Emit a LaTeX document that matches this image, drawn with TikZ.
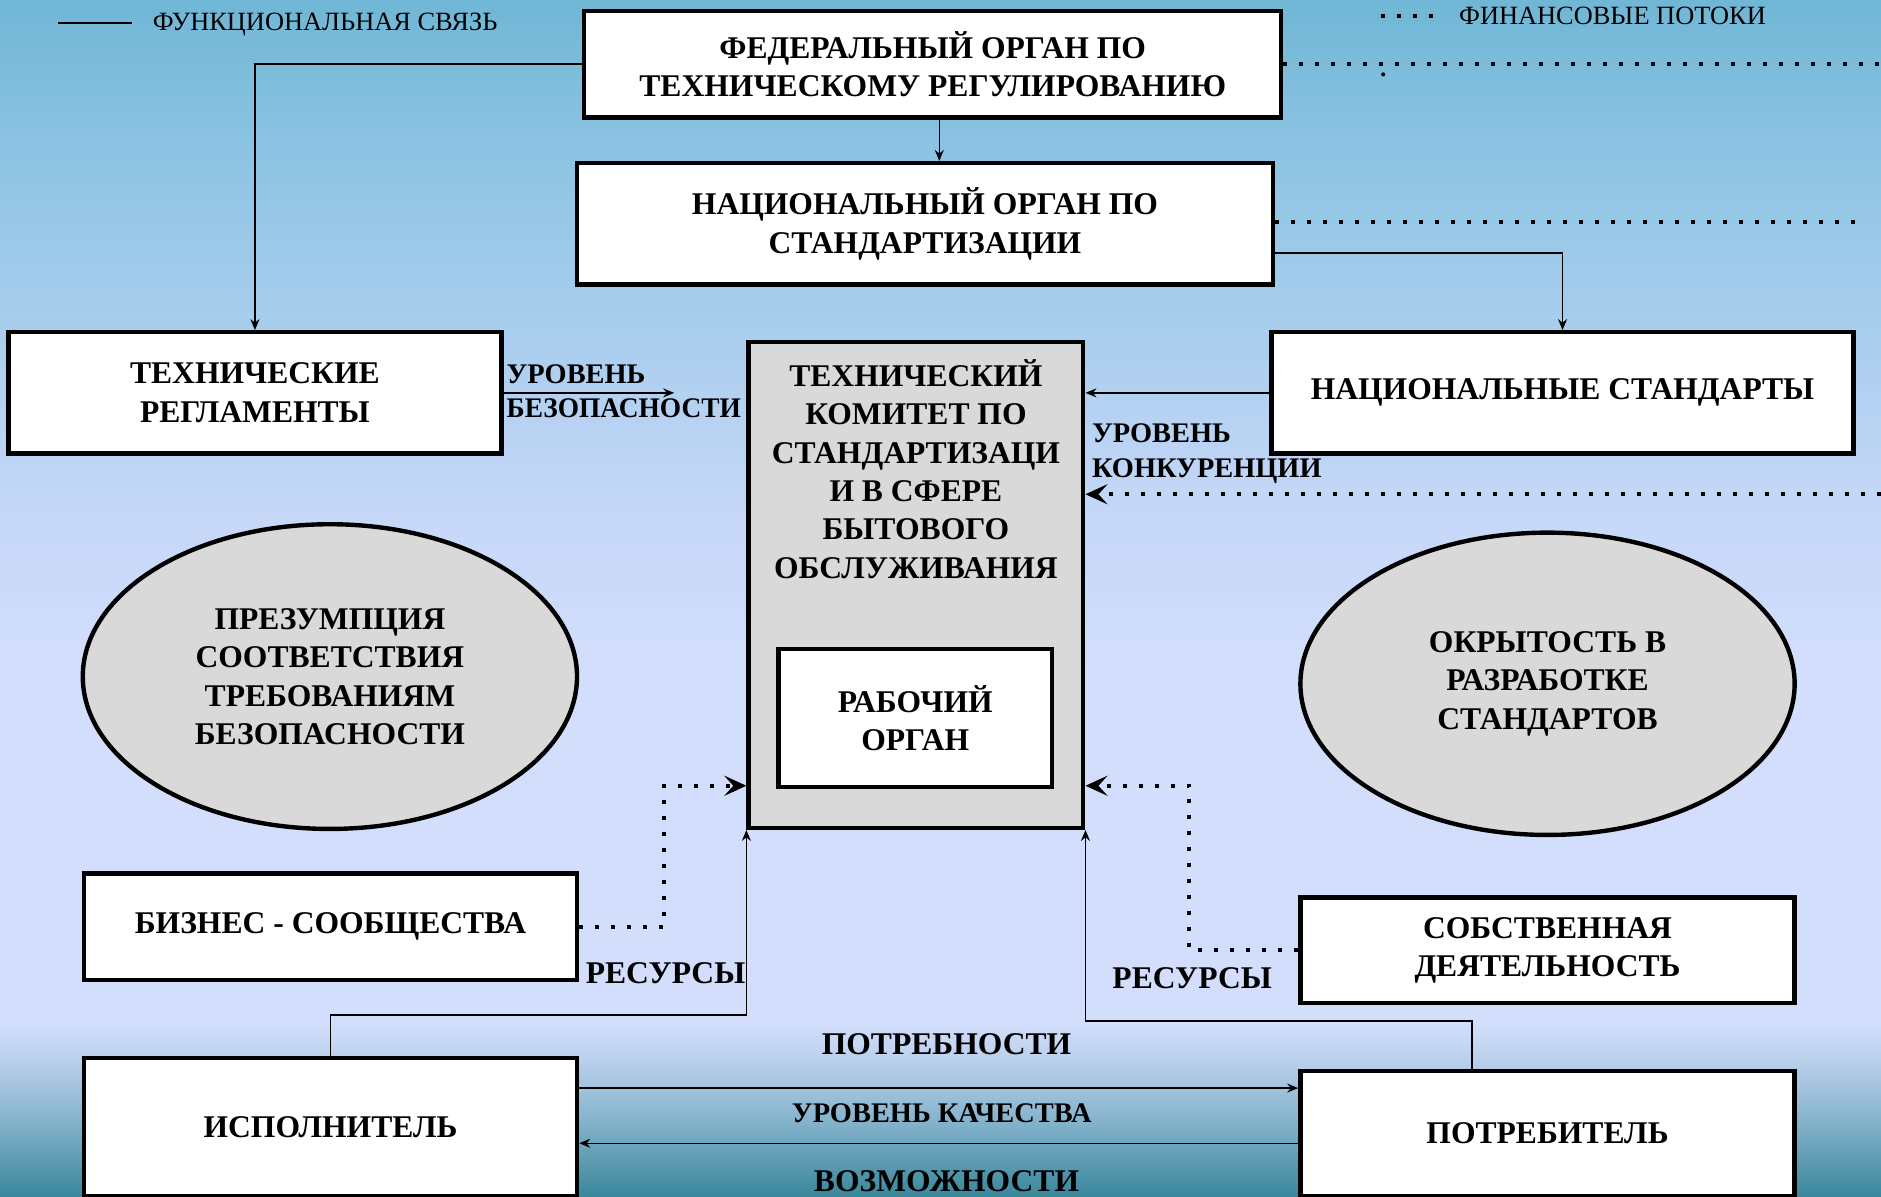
\documentclass[tikz,border=0pt]{standalone}
\usepackage{fontspec}
\usepackage{graphicx}
\setmainfont{Liberation Serif}
\usetikzlibrary{arrows.meta,shapes.geometric,calc}

\definecolor{bgA}{HTML}{70B6D5}
\definecolor{bgB}{HTML}{8CC3E2}
\definecolor{bgC}{HTML}{AACEEE}
\definecolor{bgD}{HTML}{C6D7F8}
\definecolor{bgE}{HTML}{D3DEFC}
\definecolor{bgF}{HTML}{B9CFEA}
\definecolor{bgG}{HTML}{7EAFC8}
\definecolor{bgH}{HTML}{3A879C}
\definecolor{panel}{HTML}{D9D9D9}

\newcommand{\mainfs}{\bfseries\fontsize{15.8}{19.2}\selectfont}
\newcommand{\smallfs}{\bfseries\fontsize{14.2}{17}\selectfont}
\newcommand{\legendfs}{\fontsize{13.2}{15}\selectfont}

\begin{document}
\begin{tikzpicture}[x=0.6pt,y=-0.6pt,
  sz/.style 2 args={minimum width=#1*0.6pt, minimum height=#2*0.6pt},
  box/.style={draw, line width=2.2pt, fill=white, font=\mainfs, align=center, inner sep=0pt},
  graybox/.style={box, fill=panel},
  oval/.style={ellipse, draw, line width=2.2pt, fill=panel, font=\mainfs, align=center, inner sep=0pt},
  link/.style={line width=0.75pt, -{Stealth[length=5.5pt,width=4.5pt,inset=1.8pt]}},
  plainlink/.style={line width=0.75pt},
  flow/.style={line width=2pt, dash pattern=on 2pt off 6pt},
  flowarr/.style={flow, -{Stealth[length=11pt,width=10pt,inset=4.5pt]}},
  lbl/.style={font=\mainfs, inner sep=0pt},
  slbl/.style={font=\smallfs, inner sep=0pt},
  legend/.style={font=\legendfs, inner sep=0pt}]

% background bands
\useasboundingbox (0,0) rectangle (1568,997);
\shade[top color=bgA, bottom color=bgB] (0,0) rectangle (1568,121);
\shade[top color=bgB, bottom color=bgC] (0,120) rectangle (1568,281);
\shade[top color=bgC, bottom color=bgD] (0,280) rectangle (1568,431);
\shade[top color=bgD, bottom color=bgE] (0,430) rectangle (1568,561);
\fill[bgE] (0,560) rectangle (1568,853);
\shade[top color=bgE, bottom color=bgF] (0,852) rectangle (1568,886);
\shade[top color=bgF, bottom color=bgG] (0,885) rectangle (1568,941);
\shade[top color=bgG, bottom color=bgH] (0,940) rectangle (1568,997);

% legend
\coordinate (lgA) at (48,19);
\coordinate (lgB) at (110,19);
\draw[plainlink] (lgA) -- (lgB);
\node[legend, anchor=base west] (lgtxtA) at (127,25.5) {ФУНКЦИОНАЛЬНАЯ СВЯЗЬ};
\coordinate (lgC) at (1151,13);
\coordinate (lgD) at (1199,13);
\draw[flow] (lgC) -- (lgD);
\node[legend, anchor=base west] (lgtxtB) at (1216,20.5) {ФИНАНСОВЫЕ ПОТОКИ};

% boxes
\node[box, sz={581}{89}] (fed) at (777.5,53.5) {ФЕДЕРАЛЬНЫЙ ОРГАН ПО\\ТЕХНИЧЕСКОМУ РЕГУЛИРОВАНИЮ};
\node[box, sz={580}{101}] (nat) at (771,186.5) {НАЦИОНАЛЬНЫЙ ОРГАН ПО\\СТАНДАРТИЗАЦИИ};
\node[box, sz={411}{101}] (tr) at (212.5,327.5) {ТЕХНИЧЕСКИЕ\\РЕГЛАМЕНТЫ};
\node[box, sz={485}{101}] (ns) at (1302.5,327.5) {НАЦИОНАЛЬНЫЕ СТАНДАРТЫ};
\node[graybox, sz={279}{405}] (tc) at (763.5,487.5) {};
\node[lbl, align=center] (tctxt) at (763.5,391) {ТЕХНИЧЕСКИЙ\\КОМИТЕТ ПО\\СТАНДАРТИЗАЦИ\\И В СФЕРЕ\\БЫТОВОГО\\ОБСЛУЖИВАНИЯ};
\node[box, sz={228}{115}] (wo) at (763,598.5) {РАБОЧИЙ\\ОРГАН};
\node[oval, sz={412}{254}] (pres) at (275,564) {ПРЕЗУМПЦИЯ\\СООТВЕТСТВИЯ\\ТРЕБОВАНИЯМ\\БЕЗОПАСНОСТИ};
\node[oval, sz={412}{252}] (open) at (1290,570) {ОКРЫТОСТЬ В\\РАЗРАБОТКЕ\\СТАНДАРТОВ};
\node[box, sz={411}{89}] (biz) at (275.5,772.5) {БИЗНЕС - СООБЩЕСТВА};
\node[box, sz={412}{88}] (own) at (1290,792) {СОБСТВЕННАЯ\\ДЕЯТЕЛЬНОСТЬ};
\node[box, sz={411}{115}] (ex) at (275.5,939.5) {ИСПОЛНИТЕЛЬ};
\node[box, sz={412}{104}] (cons) at (1290,945) {ПОТРЕБИТЕЛЬ};

% functional links
\draw[link] (fed.west) -| (tr.north);
\coordinate (fedx) at (783,0);
\draw[link] (fed.south -| fedx) -- (nat.north -| fedx);
\draw[link] ($(nat.east)+(0,24.5)$) -| (ns.north);
\draw[link] (ns.west) -- (tc.east |- ns.west);
\coordinate (safeend) at (562,327.5);
\draw[link] (tr.east) -- (safeend);
\draw[link] (ex.north) -- ++(0,-34) -| (tc.south west);
\draw[link] ($(cons.north west)+(145,0)$) -- ++(0,-40) -| (tc.south east);
\coordinate (qy) at (0,907);
\coordinate (py) at (0,953);
\draw[link] (ex.east |- qy) -- (cons.west |- qy);
\draw[link] (cons.west |- py) -- (ex.east |- py);

% financial flows
\coordinate (fedend) at (1568,53.5);
\draw[flow] (fed.east) -- (fedend);
\fill (1153,62) circle (1.7);
\coordinate (natend) at (1546,185);
\draw[flow] (nat.east |- natend) -- (natend);
\coordinate (rin) at (1568,412);
\draw[flowarr] (rin) -- (tc.east |- rin);
\coordinate (dy) at (0,655);
\draw[flowarr] (biz.east) -- ++(71,0) |- (tc.west |- dy);
\draw[flowarr] (own.west) -- ++(-91,0) |- (tc.east |- dy);

% link labels
\node[slbl, anchor=base west] (l1) at (422,320) {УРОВЕНЬ};
\node[slbl, anchor=base west] (l2) at (422,348) {\scalebox{0.965}[1]{БЕЗОПАСНОСТИ}};
\node[slbl, anchor=base west] (l3) at (910,369) {УРОВЕНЬ};
\node[slbl, anchor=base west] (l4) at (910,398) {КОНКУРЕНЦИИ};
\node[lbl, anchor=base west] (l5) at (488,819.7) {РЕСУРСЫ};
\node[lbl, anchor=base west] (l6) at (927,823.7) {РЕСУРСЫ};
\node[lbl, anchor=base] (l7) at (789,878.7) {ПОТРЕБНОСТИ};
\node[slbl, anchor=base] (l8) at (785,935.8) {УРОВЕНЬ КАЧЕСТВА};
\node[lbl, anchor=base] (l9) at (789,993.5) {ВОЗМОЖНОСТИ};
\end{tikzpicture}
\end{document}
